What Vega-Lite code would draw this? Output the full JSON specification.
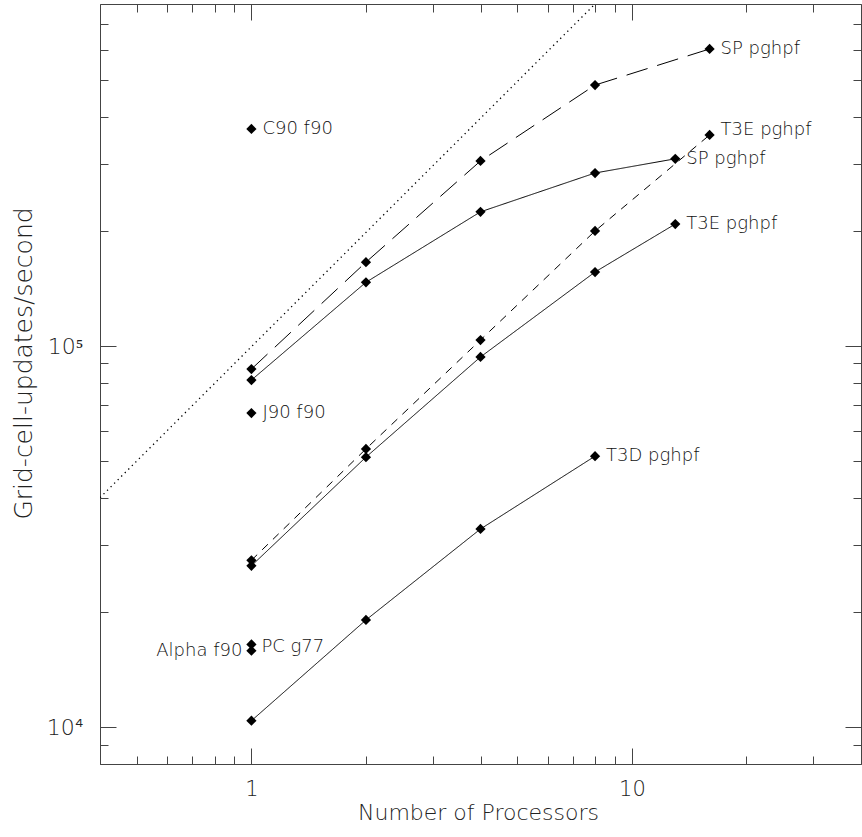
{
  "$schema": "https://vega.github.io/schema/vega-lite/v6.json",
  "autosize": "none",
  "padding": {"left": 100, "top": 4, "right": 1, "bottom": 73},
  "width": 761,
  "height": 760,
  "background": "white",
  "config": {
    "view": {"stroke": "#444", "strokeWidth": 1},
    "axis": {
      "grid": false,
      "domain": false,
      "tickColor": "#444",
      "tickWidth": 1,
      "labelFont": "DejaVu Sans",
      "titleFont": "DejaVu Sans",
      "labelColor": "#222",
      "titleColor": "#222",
      "labelFontWeight": 200,
      "titleFontWeight": 200,
      "labelFlush": false
    },
    "text": {"font": "DejaVu Sans", "fontSize": 18, "fontWeight": 200, "color": "#111"}
  },
  "datasets": {
    "ideal": [
      {"procs": 0.4, "rate": 40000},
      {"procs": 8, "rate": 790000}
    ],
    "runs": [
      {"series": "SP1", "procs": 1, "rate": 87000},
      {"series": "SP1", "procs": 2, "rate": 166000},
      {"series": "SP1", "procs": 4, "rate": 306000},
      {"series": "SP1", "procs": 8, "rate": 484000},
      {"series": "SP1", "procs": 16, "rate": 602000},
      {"series": "SP2", "procs": 1, "rate": 81400},
      {"series": "SP2", "procs": 2, "rate": 147000},
      {"series": "SP2", "procs": 4, "rate": 225000},
      {"series": "SP2", "procs": 8, "rate": 284500},
      {"series": "SP2", "procs": 13, "rate": 310000},
      {"series": "T3E1", "procs": 1, "rate": 27400},
      {"series": "T3E1", "procs": 2, "rate": 53700},
      {"series": "T3E1", "procs": 4, "rate": 103700},
      {"series": "T3E1", "procs": 8, "rate": 200400},
      {"series": "T3E1", "procs": 16, "rate": 358000},
      {"series": "T3E2", "procs": 1, "rate": 26500},
      {"series": "T3E2", "procs": 2, "rate": 51100},
      {"series": "T3E2", "procs": 4, "rate": 93600},
      {"series": "T3E2", "procs": 8, "rate": 156400},
      {"series": "T3E2", "procs": 13, "rate": 209000},
      {"series": "T3D", "procs": 1, "rate": 10390},
      {"series": "T3D", "procs": 2, "rate": 19100},
      {"series": "T3D", "procs": 4, "rate": 33100},
      {"series": "T3D", "procs": 8, "rate": 51400}
    ],
    "singles": [
      {"machine": "C90 f90", "procs": 1, "rate": 371300},
      {"machine": "J90 f90", "procs": 1, "rate": 66700},
      {"machine": "PC g77", "procs": 1, "rate": 16480},
      {"machine": "Alpha f90", "procs": 1, "rate": 15860}
    ],
    "labels": [
      {"text": "SP pghpf", "procs": 16, "rate": 602000},
      {"text": "T3E pghpf", "procs": 16, "rate": 358000},
      {"text": "SP pghpf", "procs": 13, "rate": 310000},
      {"text": "T3E pghpf", "procs": 13, "rate": 209000},
      {"text": "T3D pghpf", "procs": 8, "rate": 51400},
      {"text": "C90 f90", "procs": 1, "rate": 371300},
      {"text": "J90 f90", "procs": 1, "rate": 66700},
      {"text": "PC g77", "procs": 1, "rate": 16480},
      {"text": "Alpha f90", "procs": 1, "rate": 15860}
    ]
  },
  "resolve": {"axis": {"x": "independent", "y": "independent"}},
  "layer": [
    {
      "data": {"name": "ideal"},
      "mark": {"type": "line", "color": "black", "strokeWidth": 1.3, "strokeDash": [1.3, 3.7], "clip": true},
      "encoding": {
        "x": {"field": "procs", "type": "quantitative", "scale": {"type": "log", "domain": [0.4, 40], "nice": false},
          "axis": {"orient": "bottom", "values": [1, 10], "tickSize": -16, "labels": false, "title": null}},
        "y": {"field": "rate", "type": "quantitative", "scale": {"type": "log", "domain": [8000, 790000], "nice": false},
          "axis": {"orient": "left", "values": [10000, 100000], "tickSize": -16, "labels": false, "title": null}}
      }
    },
    {
      "data": {"name": "runs"},
      "mark": {"type": "line", "color": "black", "strokeWidth": 1},
      "encoding": {
        "x": {"field": "procs", "type": "quantitative",
          "axis": {"orient": "bottom", "values": [0.4, 0.5, 0.6, 0.7, 0.8, 0.9, 2, 3, 4, 5, 6, 7, 8, 9, 20, 30, 40], "tickSize": -8, "labels": false, "title": null}},
        "y": {"field": "rate", "type": "quantitative",
          "axis": {"orient": "left", "values": [8000, 9000, 20000, 30000, 40000, 50000, 60000, 70000, 80000, 90000, 200000, 300000, 400000, 500000, 600000, 700000], "tickSize": -8, "labels": false, "title": null}},
        "strokeDash": {"field": "series", "type": "nominal",
          "scale": {"domain": ["SP1", "SP2", "T3E1", "T3E2", "T3D"], "range": [[22, 10], [1, 0], [8, 7], [1, 0], [1, 0]]},
          "legend": null},
        "order": {"field": "procs", "type": "quantitative"}
      }
    },
    {
      "data": {"name": "runs"},
      "mark": {"type": "point", "shape": "diamond", "filled": true, "color": "black", "size": 105, "opacity": 1},
      "encoding": {
        "x": {"field": "procs", "type": "quantitative",
          "axis": {"orient": "bottom", "values": [1, 10], "ticks": false, "labels": true, "labelPadding": 31, "labelBaseline": "alphabetic", "labelFontSize": 21,
            "labelExpr": "datum.value < 5 ? '1' : '10'",
            "title": "Number of Processors", "titleFontSize": 22, "titleX": 378, "titleY": 55, "titleBaseline": "alphabetic", "titleAlign": "center"}},
        "y": {"field": "rate", "type": "quantitative",
          "axis": {"orient": "left", "values": [10000, 100000], "ticks": false, "labels": true, "labelPadding": 17, "labelFontSize": 22, "labelAlign": "right", "labelBaseline": "middle",
            "labelExpr": "datum.value < 50000 ? '10⁴' : '10⁵'",
            "title": "Grid-cell-updates/second", "titleFontSize": 25, "titleAngle": -90, "titleX": -77, "titleY": 359, "titleBaseline": "middle", "titleAlign": "center"}}
      }
    },
    {
      "data": {"name": "singles"},
      "mark": {"type": "point", "shape": "diamond", "filled": true, "color": "black", "size": 105, "opacity": 1},
      "encoding": {
        "x": {"field": "procs", "type": "quantitative",
          "axis": {"orient": "top", "values": [1, 10], "tickSize": -16, "labels": false, "title": null}},
        "y": {"field": "rate", "type": "quantitative",
          "axis": {"orient": "right", "values": [10000, 100000], "tickSize": -16, "labels": false, "title": null}}
      }
    },
    {
      "data": {"name": "labels"},
      "transform": [{"filter": "datum.text !== 'Alpha f90' && datum.text !== 'PC g77' && !(datum.text === 'T3E pghpf' && datum.procs === 16)"}],
      "mark": {"type": "text", "align": "left", "baseline": "middle", "dx": 11},
      "encoding": {
        "x": {"field": "procs", "type": "quantitative",
          "axis": {"orient": "top", "values": [0.4, 0.5, 0.6, 0.7, 0.8, 0.9, 2, 3, 4, 5, 6, 7, 8, 9, 20, 30, 40], "tickSize": -8, "labels": false, "title": null}},
        "y": {"field": "rate", "type": "quantitative",
          "axis": {"orient": "right", "values": [8000, 9000, 20000, 30000, 40000, 50000, 60000, 70000, 80000, 90000, 200000, 300000, 400000, 500000, 600000, 700000], "tickSize": -8, "labels": false, "title": null}},
        "text": {"field": "text"}
      }
    },
    {
      "data": {"name": "labels"},
      "transform": [{"filter": "datum.text === 'T3E pghpf' && datum.procs === 16"}],
      "mark": {"type": "text", "align": "left", "baseline": "middle", "dx": 11, "dy": -5},
      "encoding": {
        "x": {"field": "procs", "type": "quantitative", "axis": null},
        "y": {"field": "rate", "type": "quantitative", "axis": null},
        "text": {"field": "text"}
      }
    },
    {
      "data": {"name": "labels"},
      "transform": [{"filter": "datum.text === 'PC g77'"}],
      "mark": {"type": "text", "align": "left", "baseline": "middle", "dx": 10, "dy": 3},
      "encoding": {
        "x": {"field": "procs", "type": "quantitative", "axis": null},
        "y": {"field": "rate", "type": "quantitative", "axis": null},
        "text": {"field": "text"}
      }
    },
    {
      "data": {"name": "labels"},
      "transform": [{"filter": "datum.text === 'Alpha f90'"}],
      "mark": {"type": "text", "align": "right", "baseline": "middle", "dx": -9},
      "encoding": {
        "x": {"field": "procs", "type": "quantitative", "axis": null},
        "y": {"field": "rate", "type": "quantitative", "axis": null},
        "text": {"field": "text"}
      }
    }
  ]
}
